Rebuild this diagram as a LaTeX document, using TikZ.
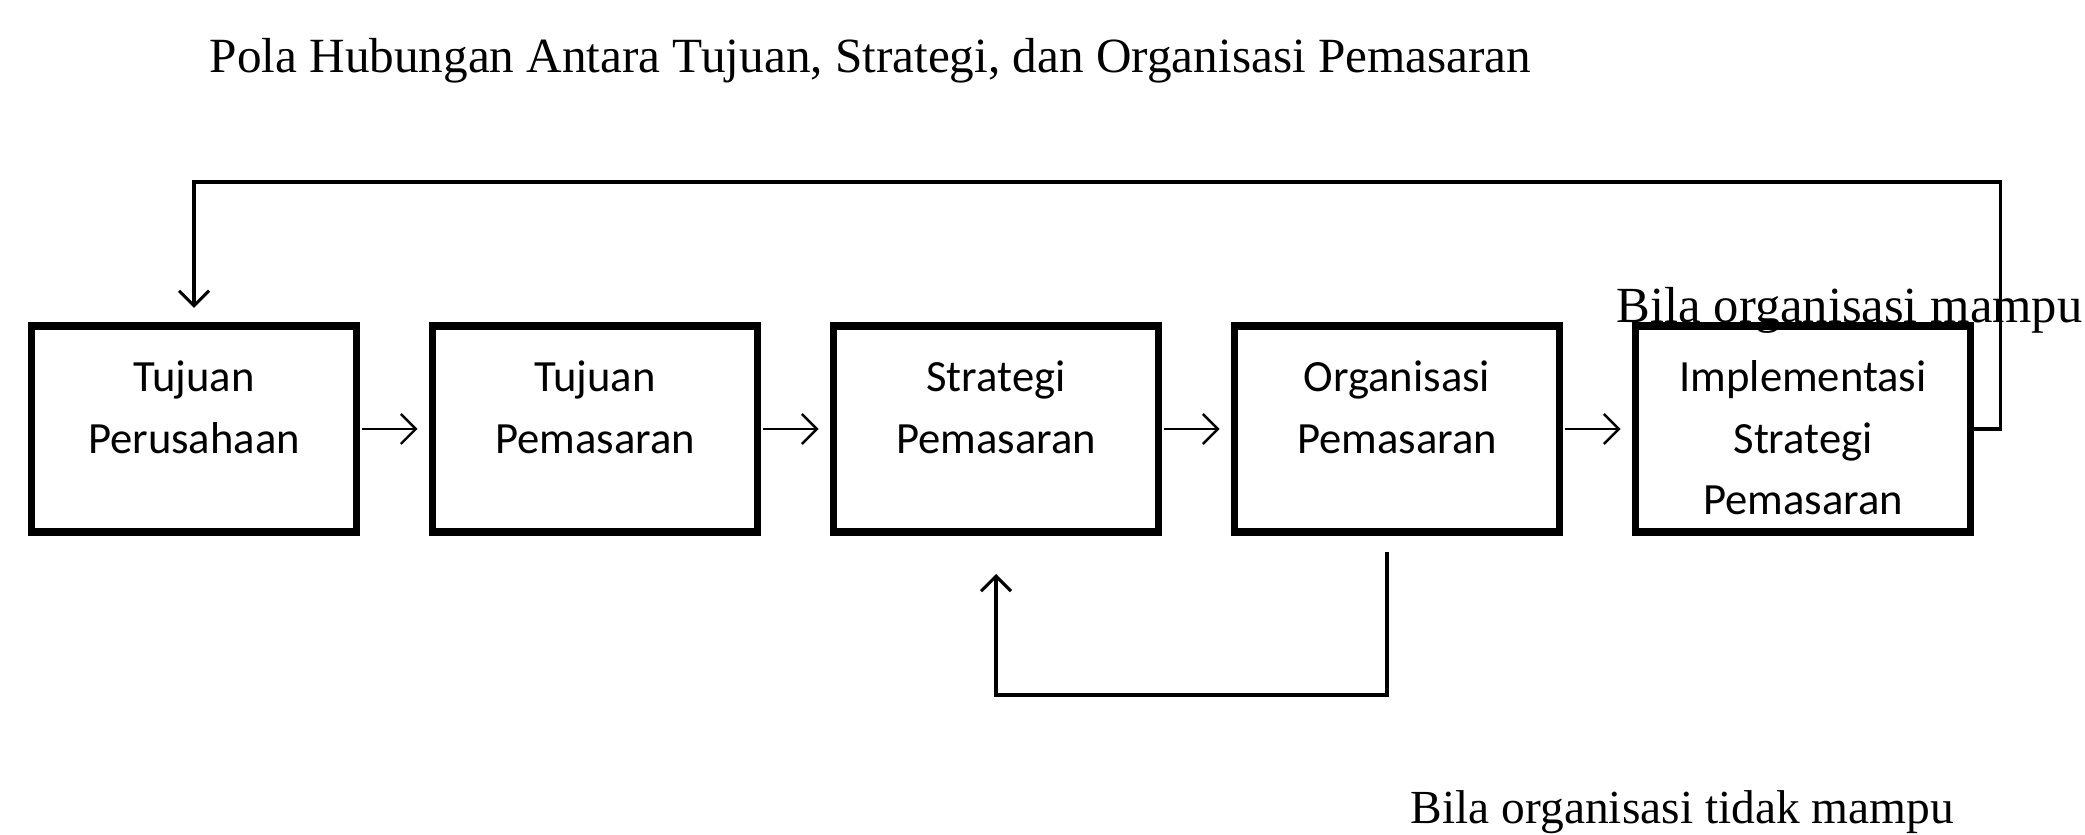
\documentclass[tikz,border=0pt]{standalone}
\usepackage{fontspec}
\setmainfont{Liberation Serif}
\newfontfamily\boxfont{Carlito}
\usetikzlibrary{arrows.meta, positioning}

\begin{document}
\begin{tikzpicture}[
        node distance=0.76cm,
        stage box/.style={draw=black, line width=2pt, outer sep=0pt, minimum width=3.25cm, text width=3.1cm, align=center, inner xsep=0pt, inner ysep=0pt, text height=0.66cm, text depth=1.40cm, font=\boxfont\fontsize{12.7pt}{17.5pt}\selectfont},
        flow arrow/.style={-{Straight Barb[length=1.5mm, width=3mm]}, line width=0.7pt, shorten <=0.05cm, shorten >=0.15cm},
        loop arrow/.style={-{Straight Barb[length=1.5mm, width=3mm]}, line width=0.9pt},
        note text/.style={font=\fontsize{14pt}{16pt}\selectfont, inner sep=0pt}
    ]
    \useasboundingbox (0,0) rectangle (20.85,8.35);

    % Title
    \node[note text, anchor=base west] (title) at (2.09, 7.62) {Pola Hubungan Antara Tujuan, Strategi, dan Organisasi Pemasaran};

    % Main chain
    \node[stage box] (tujuan) at (1.94, 4.06) {Tujuan\\Perusahaan};
    \node[stage box, right=of tujuan] (sasaran) {Tujuan\\Pemasaran};
    \node[stage box, right=of sasaran] (strategi) {Strategi\\Pemasaran};
    \node[stage box, right=of strategi] (organisasi) {Organisasi\\Pemasaran};
    \node[stage box, right=of organisasi, minimum width=3.35cm] (implementasi) {Implementasi\\Strategi\\Pemasaran};

    % Labels of the two loops
    \node[note text, anchor=base west, font=\fontsize{14.4pt}{16pt}\selectfont] (mampu) at (16.16, 5.12) {Bila organisasi mampu};
    \node[note text, anchor=base west, font=\fontsize{13.5pt}{16pt}\selectfont] (tidakmampu) at (14.10, 0.11) {Bila organisasi tidak mampu};

    % Arrows between the stages
    \draw[flow arrow] (tujuan) -- (sasaran);
    \draw[flow arrow] (sasaran) -- (strategi);
    \draw[flow arrow] (strategi) -- (organisasi);
    \draw[flow arrow] (organisasi) -- (implementasi);

    % Feedback loops
    \draw[loop arrow, shorten >=0.18cm] (implementasi.east) -- ++(0.3,0) -- ++(0,2.47) -| (tujuan.north);
    \draw[loop arrow, shorten <=0.2cm, shorten >=0.42cm] ([xshift=-0.1cm]organisasi.south) -- ++(0,-1.63) -| (strategi.south);

\end{tikzpicture}
\end{document}
